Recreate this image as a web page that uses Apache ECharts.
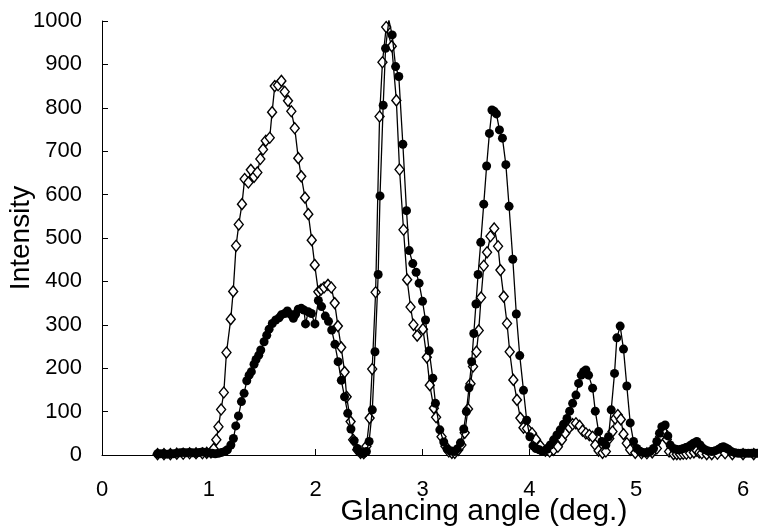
<!DOCTYPE html>
<html>
<head>
<meta charset="utf-8">
<script src="https://cdn.jsdelivr.net/npm/echarts@6/dist/echarts.min.js"></script>
<style>
html,body{margin:0;padding:0;background:#fff;}
#chart{width:758px;height:532px;}
</style>
</head>
<body>
<div id="chart"></div>
<script>
// Filled circles series
var filledAngle = [0.52,0.55,0.58,0.61,0.64,0.67,0.70,0.73,0.76,0.79,0.82,0.85,0.88,0.91,0.94,0.97,1.00,1.03,1.06,1.09,1.12,1.15,1.174,1.206,1.230,1.252,1.277,1.305,1.330,1.355,1.377,1.398,1.423,1.442,1.467,1.486,1.517,1.542,1.564,1.594,1.626,1.657,1.679,1.710,1.735,1.766,1.791,1.813,1.837,1.865,1.890,1.905,1.930,1.960,1.993,2.025,2.055,2.090,2.120,2.150,2.180,2.210,2.240,2.270,2.300,2.330,2.360,2.390,2.420,2.450,2.475,2.500,2.530,2.555,2.585,2.602,2.632,2.654,2.685,2.716,2.748,2.778,2.816,2.850,2.875,2.909,2.940,2.968,3.000,3.028,3.062,3.096,3.121,3.162,3.199,3.230,3.265,3.300,3.325,3.355,3.386,3.410,3.435,3.460,3.480,3.500,3.520,3.545,3.573,3.600,3.626,3.650,3.670,3.692,3.720,3.748,3.780,3.810,3.845,3.878,3.910,3.945,3.975,4.005,4.034,4.062,4.093,4.124,4.165,4.196,4.227,4.258,4.289,4.320,4.352,4.377,4.405,4.436,4.461,4.486,4.507,4.529,4.554,4.592,4.617,4.648,4.679,4.716,4.741,4.766,4.797,4.819,4.850,4.881,4.912,4.944,4.975,5.006,5.037,5.060,5.084,5.107,5.131,5.162,5.193,5.218,5.240,5.271,5.296,5.318,5.349,5.372,5.396,5.420,5.442,5.465,5.489,5.512,5.536,5.567,5.598,5.620,5.645,5.675,5.707,5.740,5.770,5.795,5.816,5.840,5.863,5.890,5.925,5.955,5.985,6.018,6.050,6.080,6.111,6.135];
var filledIntensity = [3,3,3,2,3,3,4,5,6,5,6,5,4,6,7,6,5,4,3,4,6,8,12,23,38,67,90,123,142,171,184,192,209,220,230,242,261,276,290,303,311,316,323,326,332,324,315,325,336,338,334,302,330,326,302,356,342,320,308,288,255,215,172,134,96,60,33,15,6,4,8,31,104,238,416,597,806,937,1002,968,895,872,716,563,471,441,421,396,354,311,240,177,119,58,30,14,9,8,14,28,60,100,155,215,280,348,416,490,578,666,741,795,792,786,749,730,669,573,451,325,229,149,80,42,21,15,12,8,13,23,35,46,58,71,84,101,119,138,165,184,192,196,184,154,101,54,31,23,42,104,188,270,297,244,159,74,31,15,8,6,5,6,8,15,31,50,65,69,44,23,15,13,12,13,15,17,19,23,27,31,23,16,12,9,8,10,13,17,19,16,13,8,5,4,4,4,4,4,4,4];

// Open diamonds series
var openAngle = [0.52,0.58,0.64,0.70,0.76,0.82,0.88,0.94,0.98,1.02,1.045,1.07,1.09,1.115,1.14,1.165,1.205,1.228,1.255,1.28,1.31,1.335,1.37,1.393,1.423,1.454,1.482,1.507,1.533,1.570,1.592,1.617,1.648,1.679,1.710,1.741,1.772,1.804,1.837,1.865,1.900,1.931,1.963,1.991,2.025,2.050,2.078,2.115,2.146,2.178,2.208,2.239,2.271,2.290,2.327,2.351,2.389,2.420,2.450,2.475,2.505,2.529,2.561,2.598,2.625,2.660,2.712,2.755,2.785,2.822,2.856,2.888,2.915,2.950,3.004,3.040,3.068,3.106,3.127,3.178,3.215,3.246,3.275,3.302,3.335,3.364,3.395,3.426,3.449,3.473,3.505,3.526,3.548,3.573,3.604,3.636,3.671,3.707,3.729,3.760,3.791,3.816,3.850,3.884,3.916,3.945,3.978,4.025,4.062,4.103,4.150,4.190,4.227,4.267,4.305,4.336,4.374,4.405,4.436,4.470,4.498,4.529,4.561,4.592,4.617,4.648,4.685,4.716,4.748,4.778,4.803,4.828,4.856,4.881,4.912,4.944,4.991,5.050,5.100,5.150,5.193,5.224,5.255,5.286,5.308,5.349,5.380,5.411,5.440,5.470,5.505,5.540,5.567,5.590,5.614,5.660,5.707,5.760,5.832,5.900,6.000,6.100];
var openIntensity = [2,2,2,3,3,4,4,4,5,6,14,35,65,105,144,236,313,377,482,531,578,636,628,657,641,651,682,704,724,731,790,850,852,862,837,816,792,753,684,642,593,555,495,438,376,381,386,392,386,350,297,248,191,134,77,35,12,5,4,20,85,198,375,780,905,986,942,817,658,519,404,341,300,275,290,225,161,108,87,42,20,8,5,5,12,23,51,106,164,204,238,287,363,436,467,504,522,481,426,365,303,238,173,127,85,63,61,50,36,21,10,8,12,19,35,50,63,71,73,67,56,50,46,42,23,10,5,8,38,54,84,92,82,48,27,12,5,4,4,6,15,42,54,36,8,2,2,2,3,3,4,6,10,6,4,2,2,3,4,2,2,2];

var xTicks = [0,1,2,3,4,5,6];
var yTicks = [0,100,200,300,400,500,600,700,800,900,1000];

function pairs(xs, ys){ var out=[]; for(var i=0;i<xs.length;i++){ out.push([xs[i], ys[i]]); } return out; }

var chart = echarts.init(document.getElementById('chart'), null, {renderer:'canvas'});
var font = 'Liberation Sans, Arial, Helvetica, sans-serif';
chart.setOption({
  animation: false,
  backgroundColor: '#fff',
  grid: {left: 102, right: 0, top: 21, bottom: 77, containLabel: false, outerBoundsMode: 'none'},
  xAxis: {
    type: 'value', min: 0, max: 6.14, interval: 1,
    name: 'Glancing angle (deg.)', nameLocation: 'middle', nameGap: 42, nameMoveOverlap: false,
    nameTextStyle: {fontFamily: font, fontSize: 30, color: '#000', padding: [0,0,0,108]},
    axisLine: {show: true, onZero: false, lineStyle: {color: '#000', width: 1}},
    axisTick: {show: true, inside: true, length: 6, lineStyle: {color: '#000'}},
    axisLabel: {show: true, showMaxLabel: false, margin: 24, fontFamily: font, fontSize: 22, color: '#000',
      formatter: function(v){ return xTicks.indexOf(v) >= 0 ? String(v) : ''; }},
    splitLine: {show: false}
  },
  yAxis: {
    type: 'value', min: 0, max: 1000, interval: 100,
    name: 'Intensity', nameLocation: 'middle', nameGap: 67, nameMoveOverlap: false,
    nameTextStyle: {fontFamily: font, fontSize: 28, color: '#000'},
    axisLine: {show: true, lineStyle: {color: '#000', width: 1}},
    axisTick: {show: true, inside: true, length: 6, lineStyle: {color: '#000'}},
    axisLabel: {show: true, margin: 20, fontFamily: font, fontSize: 22, color: '#000',
      formatter: function(v){ return yTicks.indexOf(v) >= 0 ? String(v) : ''; }},
    splitLine: {show: false}
  },
  series: [
    {
      name: 'open', type: 'line', data: pairs(openAngle, openIntensity), z: 2,
      symbol: 'diamond', symbolSize: [9, 11], showAllSymbol: true,
      lineStyle: {color: '#000', width: 1.3},
      itemStyle: {color: '#fff', borderColor: '#000', borderWidth: 1.4}
    },
    {
      name: 'filled', type: 'line', data: pairs(filledAngle, filledIntensity), z: 3,
      symbol: 'circle', symbolSize: 9, showAllSymbol: true,
      lineStyle: {color: '#000', width: 1.3},
      itemStyle: {color: '#000', borderColor: '#000', borderWidth: 0}
    }
  ]
});
</script>
</body>
</html>
